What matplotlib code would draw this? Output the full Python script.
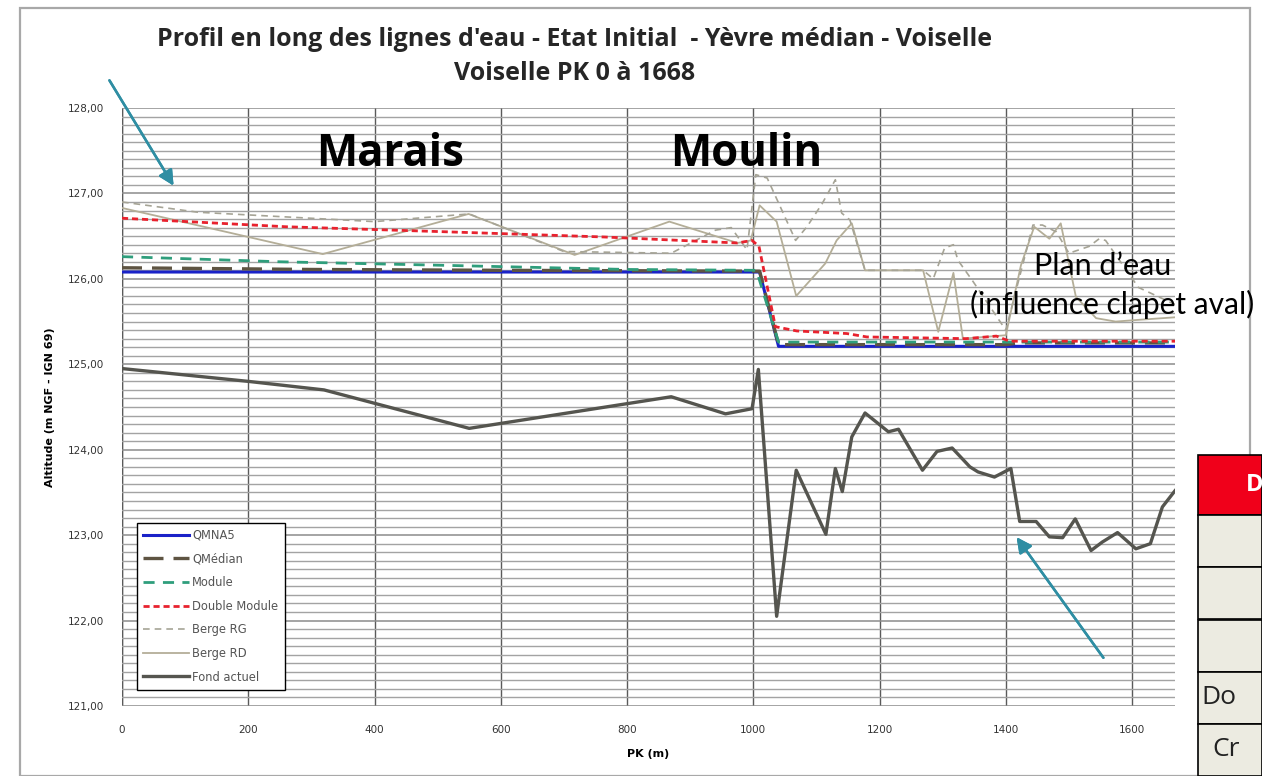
import matplotlib
matplotlib.use("Agg")
import matplotlib.pyplot as plt
from matplotlib.patches import Rectangle
from matplotlib.ticker import MultipleLocator, FuncFormatter

# --- Water-surface profiles and banks (PK in m, altitude in m NGF - IGN 69) ---
pk_qmna5 = [0, 1010, 1040, 1668]
z_qmna5 = [126.08, 126.08, 125.21, 125.21]

pk_qmedian = [0, 300, 600, 1010, 1040, 1400, 1420, 1668]
z_qmedian = [126.13, 126.11, 126.10, 126.09, 125.23, 125.23, 125.25, 125.25]

pk_module = [0, 250, 500, 800, 1005, 1040, 1668]
z_module = [126.26, 126.20, 126.16, 126.11, 126.10, 125.26, 125.26]

pk_double = [0, 260, 517, 764, 975, 998, 1009, 1035, 1069, 1148, 1180, 1337,
             1385, 1406, 1668]
z_double = [126.71, 126.61, 126.55, 126.49, 126.42, 126.45, 126.38, 125.44,
            125.39, 125.36, 125.32, 125.30, 125.33, 125.27, 125.27]

pk_berge_rg = [0, 120, 400, 550, 700, 870, 940, 965, 990, 1004, 1022, 1043,
               1067, 1085, 1109, 1130, 1140, 1153, 1177, 1269, 1285, 1303,
               1317, 1324, 1348, 1400, 1443, 1458, 1480, 1500, 1532, 1548,
               1558, 1610, 1668]
z_berge_rg = [126.90, 126.78, 126.67, 126.76, 126.32, 126.30, 126.57, 126.60,
              126.34, 127.22, 127.18, 126.84, 126.45, 126.61, 126.88, 127.16,
              126.77, 126.69, 126.10, 126.10, 126.00, 126.36, 126.40, 126.22,
              125.97, 125.40, 126.63, 126.63, 126.55, 126.30, 126.38, 126.47,
              126.45, 125.90, 125.70]

pk_berge_rd = [0, 318, 549, 717, 867, 975, 996, 1010, 1037, 1068, 1114, 1132,
               1156, 1177, 1269, 1293, 1317, 1332, 1400, 1424, 1445, 1469,
               1487, 1511, 1543, 1574, 1610, 1668]
z_berge_rd = [126.83, 126.29, 126.76, 126.28, 126.67, 126.42, 126.45, 126.86,
              126.67, 125.80, 126.18, 126.45, 126.65, 126.10, 126.10, 125.38,
              126.07, 125.30, 125.34, 126.16, 126.61, 126.47, 126.65, 125.79,
              125.54, 125.50, 125.52, 125.55]

pk_fond = [0, 200, 320, 550, 870, 956, 998, 1008, 1037, 1068, 1115, 1130,
           1141, 1156, 1177, 1214, 1230, 1268, 1291, 1315, 1343, 1356, 1382,
           1408, 1422, 1448, 1469, 1490, 1510, 1535, 1553, 1577, 1606, 1629,
           1648, 1668]
z_fond = [124.95, 124.80, 124.70, 124.25, 124.62, 124.42, 124.48, 124.94,
          122.05, 123.76, 123.01, 123.78, 123.51, 124.15, 124.43, 124.21,
          124.24, 123.76, 123.98, 124.02, 123.80, 123.74, 123.68, 123.78,
          123.16, 123.16, 122.98, 122.97, 123.19, 122.82, 122.92, 123.03,
          122.84, 122.90, 123.33, 123.52]

series_labels = ["QMNA5", "QMédian", "Module", "Double Module", "Berge RG",
                 "Berge RD", "Fond actuel"]
x_ticks = [0, 200, 400, 600, 800, 1000, 1200, 1400, 1600]
y_ticks = [121, 122, 123, 124, 125, 126, 127, 128]
table_header = "D"
table_rows = ["", "", "", "Do", "Cr"]

W, H = 1262, 776
fig = plt.figure(figsize=(W / 100, H / 100), dpi=100)
fig.patch.set_facecolor("white")

# outer frame of the chart object
fig.add_artist(Rectangle((20 / W, 0), 1230 / W, (H - 8) / H,
                         transform=fig.transFigure, fill=False,
                         edgecolor="#a8a8a8", lw=1.6))

ax = fig.add_axes([122 / W, 1 - 706 / H, 1053 / W, 598 / H])
ax.set_xlim(0, 1668)
ax.set_ylim(121, 128)

ax.yaxis.set_major_locator(MultipleLocator(1))
ax.yaxis.set_minor_locator(MultipleLocator(0.1))
ax.set_xticks(x_ticks)
ax.set_yticks(y_ticks)
ax.yaxis.set_major_formatter(FuncFormatter(lambda v, p: f"{v:.2f}".replace(".", ",")))
ax.grid(which="minor", axis="y", color="#a3a3a3", lw=1.0)
ax.grid(which="major", axis="y", color="#8c8c8c", lw=1.1)
ax.grid(which="major", axis="x", color="#5a5a5a", lw=1.0)
ax.set_axisbelow(True)
ax.tick_params(which="both", length=0, labelsize=7.5, colors="#333333")
ax.tick_params(axis="y", pad=13)
ax.tick_params(axis="x", pad=14)
for s in ax.spines.values():
    s.set_visible(False)
ax.axvline(0, color="#5a5a5a", lw=1.0, zorder=0.5)

# lines
ax.plot(pk_berge_rd, z_berge_rd, color="#b4ae98", lw=1.3, label=series_labels[5])
ax.plot(pk_berge_rg, z_berge_rg, color="#a6a496", lw=1.2, ls=(0, (4, 3)),
        label=series_labels[4])
ax.plot(pk_fond, z_fond, color="#55554f", lw=2.4, label=series_labels[6])
ax.plot(pk_qmna5, z_qmna5, color="#1a22c8", lw=2.2, label=series_labels[0])
ax.plot(pk_qmedian, z_qmedian, color="#5e5442", lw=2.4, ls=(0, (6, 3)),
        label=series_labels[1])
ax.plot(pk_module, z_module, color="#2f9e7c", lw=2.0, ls=(0, (4, 3)),
        label=series_labels[2])
ax.plot(pk_double, z_double, color="#e8222e", lw=2.0, ls=(0, (2.2, 1.4)),
        label=series_labels[3])

handles, labels = ax.get_legend_handles_labels()
order = [labels.index(l) for l in series_labels]
leg = ax.legend([handles[i] for i in order], [labels[i] for i in order],
                loc="lower left", bbox_to_anchor=(0.014, 0.027),
                fontsize=8.3, handlelength=4.0, handletextpad=0.25,
                labelspacing=0.92, borderpad=0.55, borderaxespad=0,
                fancybox=False, framealpha=1, edgecolor="black",
                labelcolor="#555555")
leg.get_frame().set_linewidth(1.0)

ax.set_xlabel("PK (m)", fontsize=8, fontweight="bold", labelpad=10)
ax.set_ylabel("Altitude (m NGF - IGN 69)", fontsize=8, fontweight="bold",
              labelpad=9)

title_kw = dict(ha="center", va="center", fontsize=18, fontweight="bold",
                family="Open Sans", color="#262626")
fig.text(575 / W, 1 - 40 / H,
         "Profil en long des lignes d'eau - Etat Initial  - Yèvre médian - Voiselle",
         **title_kw)
fig.text(575 / W, 1 - 73 / H, "Voiselle PK 0 à 1668", **title_kw)

fig.text(390 / W, 1 - 154 / H, "Marais", ha="center", va="center",
         fontsize=31.5, fontweight="bold", family="Open Sans", color="black")
fig.text(746 / W, 1 - 154 / H, "Moulin", ha="center", va="center",
         fontsize=31.5, fontweight="bold", family="Open Sans", color="black")
fig.text(1103 / W, 1 - 266 / H, "Plan d’eau", ha="center", va="center",
         fontsize=22, family="Lato", color="black")
fig.text(1112 / W, 1 - 304 / H, "(influence clapet aval)", ha="center",
         va="center", fontsize=21.5, family="Lato", color="black")

arrow_style = dict(arrowstyle="-|>,head_length=0.9,head_width=0.45",
                   color="#2f8ea3", lw=1.8)
fig.add_artist(plt.annotate("", xy=(175, H - 188), xytext=(108, H - 78),
                            xycoords="figure pixels",
                            textcoords="figure pixels",
                            arrowprops=arrow_style))
fig.add_artist(plt.annotate("", xy=(1015, H - 535), xytext=(1105, H - 660),
                            xycoords="figure pixels",
                            textcoords="figure pixels",
                            arrowprops=arrow_style))

# partial table at the right edge
tx0 = 1198
fig.add_artist(Rectangle((tx0 / W, 1 - 515 / H), (W - tx0) / W, 60 / H,
                         transform=fig.transFigure, facecolor="#f0001a",
                         edgecolor="black", lw=1.2))
fig.text(1246 / W, 1 - 485 / H, table_header, ha="left", va="center",
         fontsize=17, fontweight="bold", color="white", family="Open Sans")
row_top = [515, 567, 620, 672, 724]
for i, rt in enumerate(row_top):
    fig.add_artist(Rectangle((tx0 / W, 1 - (rt + 52) / H), (W - tx0) / W,
                             52 / H, transform=fig.transFigure,
                             facecolor="#ecebe1", edgecolor="black", lw=1.2))
    if table_rows[i]:
        xs = 1201 if i == 3 else 1212
        fig.text(xs / W, 1 - (rt + 26) / H, table_rows[i], ha="left",
                 va="center", fontsize=19, color="#222222", family="Open Sans")

fig.savefig("out.png", dpi=100)
